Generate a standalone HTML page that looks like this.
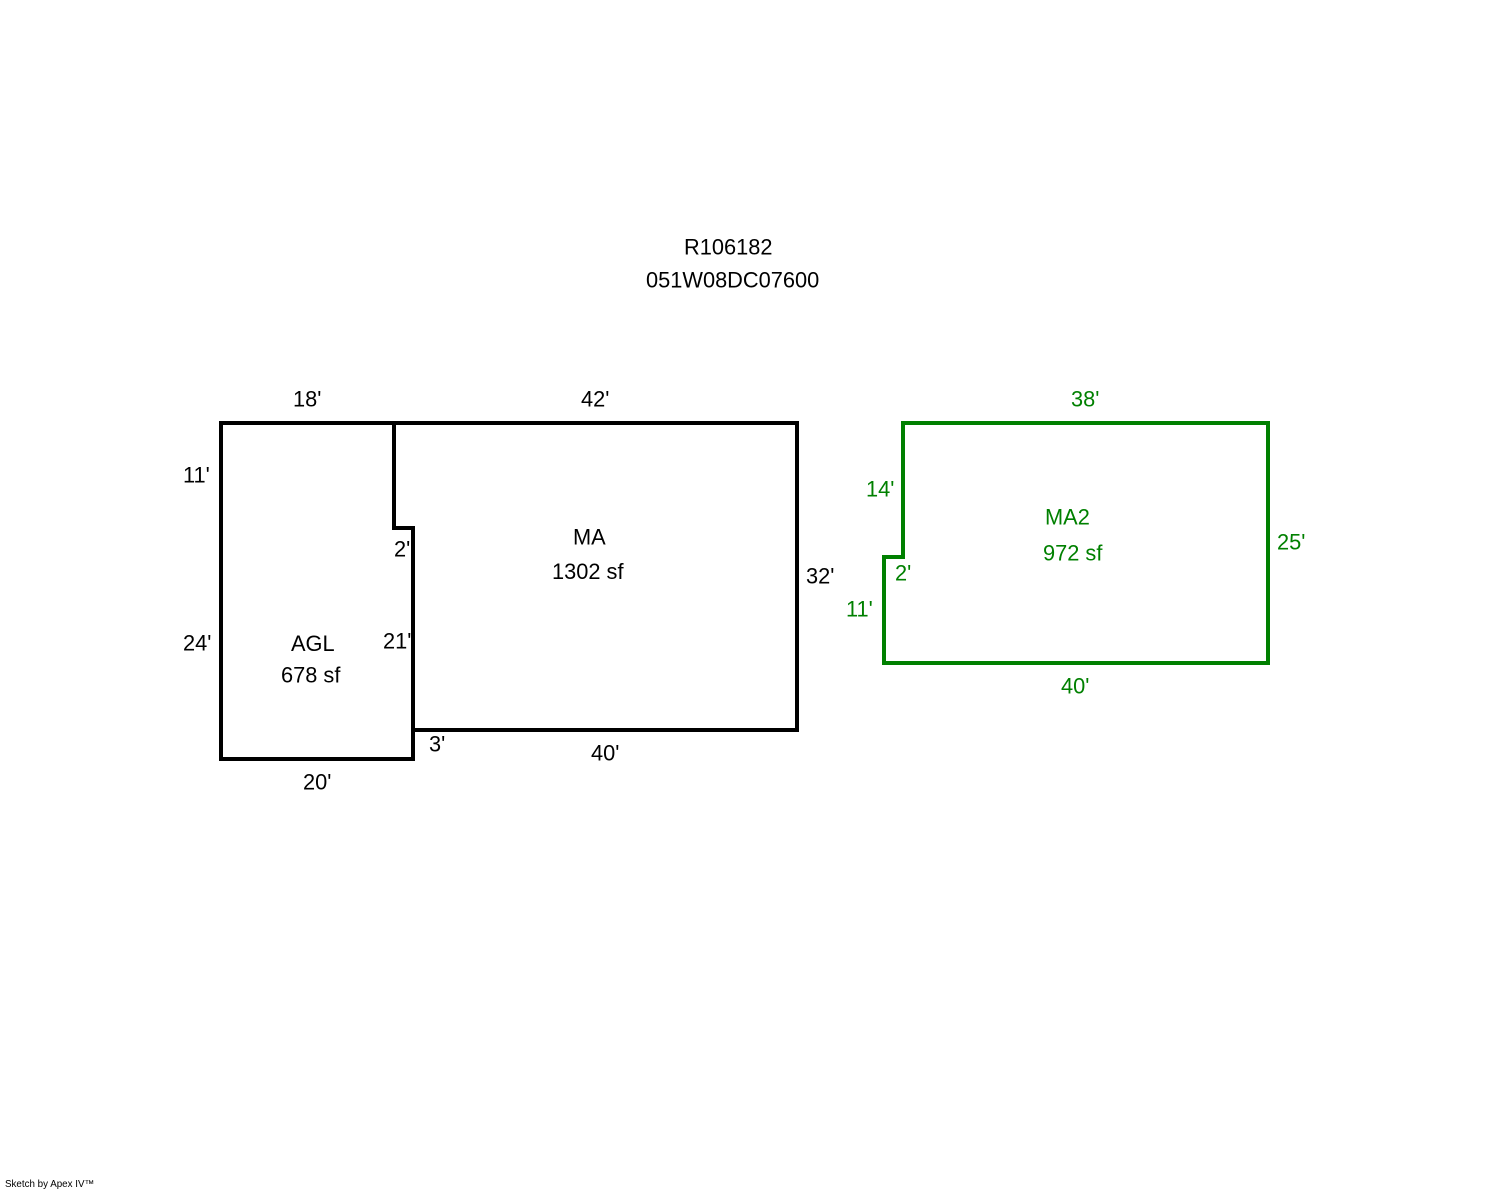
<!DOCTYPE html>
<html><head><meta charset="utf-8"><style>
html,body{margin:0;padding:0;background:#fff;width:1488px;height:1190px;overflow:hidden}
svg{display:block}
text{font-family:"Liberation Sans",Arial,sans-serif;font-size:21.8px}
.k{fill:#000}.g{fill:#008000}
</style></head><body>
<svg width="1488" height="1190" viewBox="0 0 1488 1190" xmlns="http://www.w3.org/2000/svg">
<rect width="1488" height="1190" fill="#fff"/>
<g fill="none" stroke="#000" stroke-width="4" stroke-linejoin="miter">
<path d="M394 423H797V730H413"/>
<path d="M394 423V528H413V759H221V423Z"/>
</g>
<path d="M903 423H1268V663H884V557H903Z" fill="none" stroke="#008000" stroke-width="4"/>
<g class="k" transform="translate(0,-0.5)">
<text x="684" y="255">R106182</text>
<text x="646" y="288">051W08DC07600</text>
<text x="293" y="407">18'</text>
<text x="581" y="407">42'</text>
<text x="183" y="483">11'</text>
<text x="183" y="651">24'</text>
<text x="394" y="557">2'</text>
<text x="383" y="649">21'</text>
<text x="429" y="752">3'</text>
<text x="303" y="790">20'</text>
<text x="591" y="761">40'</text>
<text x="806" y="584">32'</text>
<text x="573" y="545">MA</text>
<text x="552" y="579.5">1302 sf</text>
<text x="291" y="651.5">AGL</text>
<text x="281" y="683">678 sf</text>
</g>
<g class="g" transform="translate(0,-0.5)">
<text x="1071" y="407">38'</text>
<text x="866" y="497">14'</text>
<text x="895" y="581">2'</text>
<text x="846" y="617">11'</text>
<text x="1277" y="550">25'</text>
<text x="1061" y="694">40'</text>
<text x="1045" y="525">MA2</text>
<text x="1043" y="561">972 sf</text>
</g>
<text x="5" y="1187" style="font-size:9.8px" fill="#000">Sketch by Apex IV™</text>
</svg>
</body></html>
